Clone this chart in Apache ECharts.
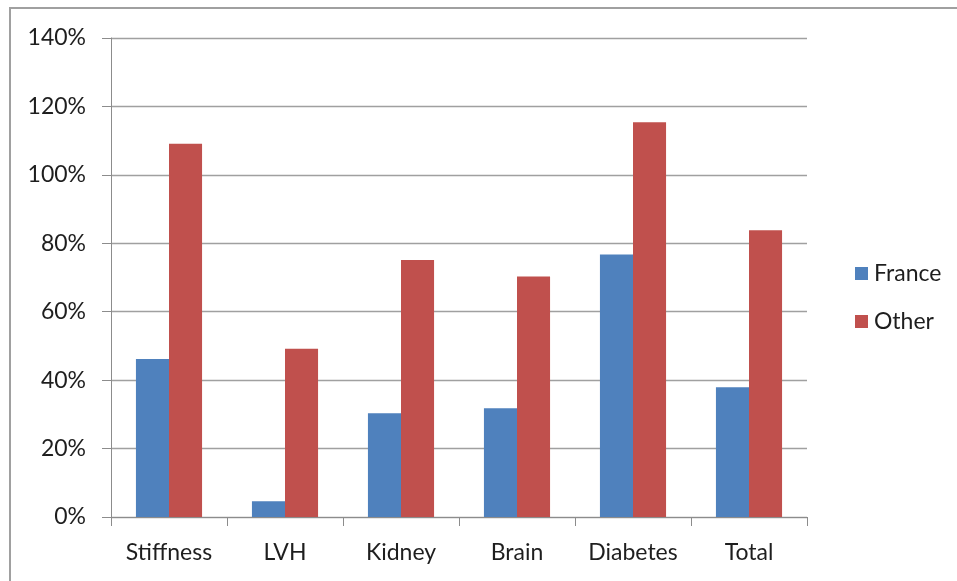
<!DOCTYPE html>
<html>
<head>
<meta charset="utf-8">
<style>
  html, body { margin: 0; padding: 0; background: #fff; }
  #chart { width: 957px; height: 581px; }
</style>
<script src="https://cdn.jsdelivr.net/npm/echarts@6/dist/echarts.min.js"></script>
</head>
<body>
<div id="chart"></div>
<script>
// Share of patients per category, France versus other centres
const categories = ['Stiffness', 'LVH', 'Kidney', 'Brain', 'Diabetes', 'Total'];
const franceValues = [0.462, 0.046, 0.303, 0.318, 0.767, 0.379];
const otherValues = [1.091, 0.492, 0.751, 0.703, 1.154, 0.838];
const seriesNames = ['France', 'Other'];
const seriesColors = ['#4f81bd', '#c0504d'];

const FONT = 'Lato, "Open Sans", sans-serif';
const TEXT = '#1e1e1e';

const chart = echarts.init(document.getElementById('chart'));
chart.setOption({
  animation: false,
  backgroundColor: '#ffffff',
  textStyle: { fontFamily: FONT },
  graphic: [{
    type: 'rect',
    shape: { x: 10, y: 8, width: 1200, height: 1200 },
    style: { fill: 'none', stroke: '#a0a0a0', lineWidth: 2 },
    silent: true
  }],
  grid: { left: 111, right: 150, top: 38, bottom: 64, containLabel: false },
  legend: {
    orient: 'vertical',
    left: 850,
    top: 257,
    itemWidth: 13,
    itemHeight: 13,
    itemGap: 25,
    icon: 'rect',
    textStyle: { fontFamily: FONT, fontSize: 23, color: TEXT, padding: [0, 0, 0, 1] },
    data: seriesNames
  },
  xAxis: {
    type: 'category',
    data: categories,
    axisLine: { lineStyle: { color: '#8c8c8c', width: 1 } },
    axisTick: { show: true, interval: 0, length: 9, lineStyle: { color: '#8c8c8c' } },
    axisLabel: { interval: 0, hideOverlap: false, fontFamily: FONT, fontSize: 23, color: TEXT, margin: 24 }
  },
  yAxis: {
    type: 'value',
    min: 0,
    max: 1.4,
    interval: 0.2,
    axisLine: { show: true, lineStyle: { color: '#8c8c8c', width: 1 } },
    axisTick: { show: true, length: 9, lineStyle: { color: '#8c8c8c' } },
    splitLine: { lineStyle: { color: '#a0a0a0', width: 1.3 } },
    axisLabel: {
      fontFamily: FONT, fontSize: 23, color: TEXT, margin: 25,
      formatter: v => Math.round(v * 100) + '%'
    }
  },
  series: seriesNames.map((name, i) => ({
    name,
    type: 'bar',
    data: i === 0 ? franceValues : otherValues,
    barGap: '0%',
    barCategoryGap: '43%',
    itemStyle: { color: seriesColors[i] }
  }))
});
</script>
</body>
</html>
